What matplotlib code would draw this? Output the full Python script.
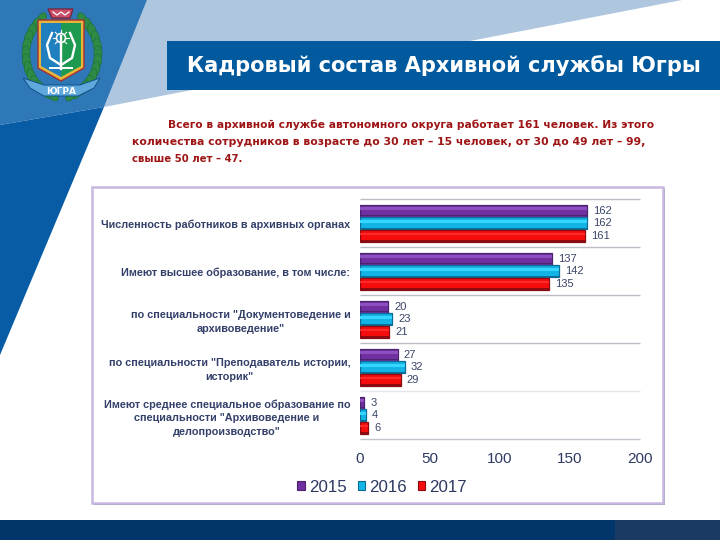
import numpy as np
import matplotlib
matplotlib.use("Agg")
import matplotlib.pyplot as plt
from matplotlib.patches import Polygon, Rectangle, Ellipse, Patch

# ---- data ----
categories = [
    'Численность работников в архивных органах',
    'Имеют высшее образование, в том числе:',
    'по специальности "Документоведение и\nархивоведение"',
    'по специальности "Преподаватель истории,\nисторик"',
    'Имеют среднее специальное образование по\nспециальности "Архивоведение и\nделопроизводство"',
]
years = ['2015', '2016', '2017']
v2015 = [162, 137, 20, 27, 3]
v2016 = [162, 142, 23, 32, 4]
v2017 = [161, 135, 21, 29, 6]
x_ticks = [0, 50, 100, 150, 200]
title = 'Кадровый состав Архивной службы Югры'
body_lines = [
    'Всего в архивной службе автономного округа работает 161 человек. Из этого',
    'количества сотрудников в возрасте до 30 лет – 15 человек, от 30 до 49 лет – 99,',
    'свыше 50 лет – 47.',
]

W, H = 720, 540
plt.rcParams['font.family'] = ['Liberation Sans', 'DejaVu Sans']
fig = plt.figure(figsize=(W / 100, H / 100), dpi=100, facecolor='white')

# ---- slide background in pixel coordinates ----
bg = fig.add_axes([0, 0, 1, 1])
bg.set_xlim(0, W)
bg.set_ylim(H, 0)
bg.axis('off')

bg.add_patch(Polygon([(147, 0), (682, 0), (470, 41), (192, 90), (104, 107)], fc='#AEC6DE', ec='none'))
bg.add_patch(Polygon([(0, 0), (147, 0), (104, 107), (0, 125)], fc='#2F78B8', ec='none'))
bg.add_patch(Polygon([(0, 125), (104, 107), (0, 355)], fc='#075CA5', ec='none'))
bg.add_patch(Rectangle((167, 41), 553, 49, fc='#015A9E', ec='none'))
bg.add_patch(Rectangle((0, 520), 615, 20, fc='#02356A', ec='none'))
bg.add_patch(Rectangle((615, 520), 105, 20, fc='#1A3A63', ec='none'))

# emblem: wreath of small leaves
for t in np.linspace(125, 255, 13):
    r = np.radians(t)
    cx, cy = 62 + 36 * np.cos(r), 54 + 42 * np.sin(-r)
    for side in (1, -1):
        px = 62 + side * abs(cx - 62)
        bg.add_patch(Ellipse((px, cy), 8, 15, angle=side * (t - 180) * 0.5,
                             fc='#2E8B45', ec='#1C6A33', lw=0.4))
bg.add_patch(Polygon([(48, 9), (73, 9), (70, 18), (52, 18)], fc='#C8506A', ec='#7A1F35', lw=0.9))
bg.plot([53, 57, 61, 65, 69], [12, 15, 12, 15, 12], color='white', lw=0.9)
bg.add_patch(Polygon([(38, 20), (84, 20), (84, 68), (61, 81), (38, 68)], fc='#E9B43C', ec='#A03030', lw=1))
bg.add_patch(Polygon([(41, 23), (61, 23), (61, 77), (41, 66)], fc='#1F7FBF', ec='none'))
bg.add_patch(Polygon([(61, 23), (81, 23), (81, 66), (61, 77)], fc='#1E9A50', ec='none'))
bg.plot([52, 47, 50, 61, 72, 75, 70], [33, 45, 58, 65, 58, 45, 33], color='white', lw=1.7)
bg.plot([61, 61], [36, 69], color='white', lw=1.7)
bg.plot([50, 72], [68, 68], color='white', lw=1.4)
bg.add_patch(Ellipse((61, 38), 9, 9, fc='none', ec='white', lw=1.2))
for a in np.radians(np.arange(0, 360, 45)):
    bg.plot([61 + 5 * np.cos(a), 61 + 8 * np.cos(a)], [38 + 5 * np.sin(a), 38 + 8 * np.sin(a)], color='white', lw=0.8)
bg.add_patch(Polygon([(23, 78), (44, 85), (80, 85), (100, 78), (94, 88), (78, 96), (44, 96), (30, 88)],
                     fc='#5FA8DC', ec='#14508C', lw=0.7))
bg.text(61, 91, 'ЮГРА', color='white', fontsize=6.5, fontweight='bold', ha='center', va='center',
        family=['DejaVu Sans'])

# slide texts
bg.text(443.5, 66, title, color='white', fontsize=15.1, fontweight='bold', ha='center', va='center',
        family=['DejaVu Sans'])
body_x = [168, 132, 132]
body_y = [125, 142, 159]
body_w = [482, 513, 111]
renderer = fig.canvas.get_renderer()
for s, x0, y0, w0 in zip(body_lines, body_x, body_y, body_w):
    t = bg.text(x0, y0, s, color='#9E1414', fontsize=8, fontweight='bold', ha='left', va='center',
                family=['DejaVu Sans'])
    t.set_fontsize(8 * w0 / t.get_window_extent(renderer).width)

# chart panel
bg.add_patch(Rectangle((94, 189), 571, 316, fc='#8A8A9C', ec='none'))
bg.add_patch(Rectangle((92, 187), 571, 316, fc='white', ec='#C8B8E0', lw=1.8))

# ---- chart ----
ax = fig.add_axes([360 / W, 1 - 439.3 / H, 280 / W, 240 / H])
ax.patch.set_alpha(0)
n = len(categories)
y = np.arange(n) + 0.5
h = 0.2625
series = [v2015, v2016, v2017]
main = ['#7030A0', '#12B4E6', '#F50D0D']
edge = ['#4A2270', '#0B6C96', '#8E0A12']
light = ['#8E50BE', '#35D6FF', '#FF2A2A']
for k, (vals, c, e, l, yr) in enumerate(zip(series, main, edge, light, years)):
    pos = y + (k - 1) * h
    bars = ax.barh(pos, vals, height=h * 0.97, color=c, edgecolor=e, linewidth=0.9, zorder=3, label=yr)
    ax.barh(pos - h * 0.15, vals, height=h * 0.22, color=l, linewidth=0, zorder=4)
    ax.barh(pos + h * 0.4, vals, height=h * 0.12, color=e, linewidth=0, zorder=4)
    ax.bar_label(bars, labels=[str(v) for v in vals], padding=4.4, fontsize=8, color='#3A4668')

ax.set_xlim(0, 200)
ax.set_ylim(n, 0)
ax.set_xticks(x_ticks)
ax.set_yticks(y)
ax.set_yticklabels(categories, fontsize=7.8, fontweight='bold', color='#34406A', multialignment='center',
                   linespacing=1.45)
ax.tick_params(axis='y', length=0, pad=7)
ax.tick_params(axis='x', length=0, pad=9.5, labelsize=11, labelcolor='#2E3A62')
grid_colors = ['#BDBDC6', '#BDBDC6', '#BDBDC6', '#BDBDC6', '#E6E6EA', '#C4C4CC']
ax.hlines(np.arange(n + 1), 0, 200, colors=grid_colors, lw=1, zorder=1, clip_on=False)
for s in ax.spines.values():
    s.set_visible(False)

handles = [Patch(fc=c, ec=e, lw=0.8, label=yr) for c, e, yr in zip(main, edge, years)]
ax.legend(handles=handles, loc='center', bbox_to_anchor=(382 / W, 1 - 487 / H),
          bbox_transform=fig.transFigure, ncol=3, frameon=False, fontsize=12.2,
          labelcolor='#2E3A62', handlelength=0.42, handleheight=0.42, handletextpad=0.25,
          columnspacing=0.65, borderpad=0)

fig.savefig('out.png', dpi=100)
